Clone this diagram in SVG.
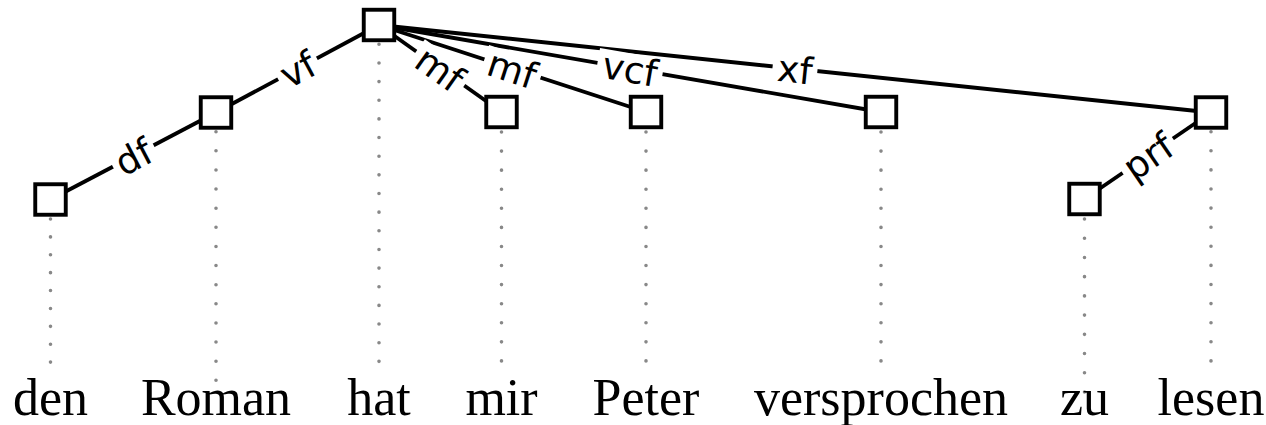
<svg xmlns="http://www.w3.org/2000/svg" width="1266" height="425" viewBox="0 0 1266 425">
<style>
.dot{stroke:#888;stroke-width:3.6;stroke-linecap:round;fill:none}
.edge{stroke:#000;stroke-width:3.9;fill:none}
.box{fill:#fff;stroke:#000;stroke-width:3.9}
.lbg{fill:#fff;stroke:none}
.lbl{font-family:"DejaVu Sans",sans-serif;font-size:37px;text-anchor:middle;fill:#000}
.word{font-family:"Liberation Serif","Times New Roman",serif;font-size:52px;text-anchor:middle;fill:#000}
</style>
<rect width="1266" height="425" fill="#fff"/>
<g id="projections">
<line class="dot" x1="50.5" y1="219" x2="50.5" y2="380" stroke-dasharray="0 17.889"/>
<line class="dot" x1="216" y1="131.7" x2="216" y2="380.3" stroke-dasharray="0 19.123"/>
<line class="dot" x1="379" y1="44.3" x2="379" y2="380" stroke-dasharray="0 18.65"/>
<line class="dot" x1="501.5" y1="132" x2="501.5" y2="380" stroke-dasharray="0 19.077"/>
<line class="dot" x1="646" y1="132" x2="646" y2="380" stroke-dasharray="0 19.077"/>
<line class="dot" x1="881" y1="132" x2="881" y2="380" stroke-dasharray="0 19.077"/>
<line class="dot" x1="1084.5" y1="219" x2="1084.5" y2="392" stroke-dasharray="0 19.222"/>
<line class="dot" x1="1211" y1="131.7" x2="1211" y2="380" stroke-dasharray="0 19.1"/>
</g>
<g id="connectors">
<line class="edge" x1="50.5" y1="199.5" x2="216" y2="112.5"/>
<line class="edge" x1="216" y1="112.5" x2="379" y2="25"/>
<line class="edge" x1="379" y1="25" x2="501.5" y2="112"/>
<line class="edge" x1="379" y1="25" x2="646" y2="112"/>
<line class="edge" x1="379" y1="25" x2="881" y2="112"/>
<line class="edge" x1="379" y1="25" x2="1211" y2="112.5"/>
<line class="edge" x1="1084.5" y1="199" x2="1211" y2="112.5"/>
<g transform="translate(133.25,156) rotate(-27.73)"><rect class="lbg" x="-23" y="-15" width="46" height="30"/><text class="lbl" y="14">df</text></g>
<g transform="translate(297.5,68.75) rotate(-28.23)"><rect class="lbg" x="-22" y="-15" width="44" height="30"/><text class="lbl" y="14">vf</text></g>
<g transform="translate(440.25,68.5) rotate(35.38)"><rect class="lbg" x="-29.5" y="-15" width="59" height="30"/><text class="lbl" y="14">mf</text></g>
<g transform="translate(512.5,68.5) rotate(18.05)"><rect class="lbg" x="-29.5" y="-15" width="59" height="30"/><text class="lbl" y="14">mf</text></g>
<g transform="translate(630,68.5) rotate(9.83)"><rect class="lbg" x="-33" y="-15" width="66" height="30"/><text class="lbl" y="14">vcf</text></g>
<g transform="translate(795,68.75) rotate(6)"><rect class="lbg" x="-22.5" y="-15" width="45" height="30"/><text class="lbl" y="14">xf</text></g>
<g transform="translate(1147.75,155.75) rotate(-34.36)"><rect class="lbg" x="-30.5" y="-15" width="61" height="30"/><text class="lbl" y="14">prf</text></g>
</g>
<g id="n-den"><rect class="box" x="35.25" y="184.25" width="30.5" height="30.5"/><text class="word" x="50.5" y="415">den</text></g>
<g id="n-roman"><rect class="box" x="200.75" y="97.25" width="30.5" height="30.5"/><text class="word" x="216" y="415">Roman</text></g>
<g id="n-hat"><rect class="box" x="363.75" y="9.75" width="30.5" height="30.5"/><text class="word" x="379" y="415">hat</text></g>
<g id="n-mir"><rect class="box" x="486.25" y="96.75" width="30.5" height="30.5"/><text class="word" x="501.5" y="415">mir</text></g>
<g id="n-peter"><rect class="box" x="630.75" y="96.75" width="30.5" height="30.5"/><text class="word" x="646" y="415">Peter</text></g>
<g id="n-versprochen"><rect class="box" x="865.75" y="96.75" width="30.5" height="30.5"/><text class="word" x="881" y="415">versprochen</text></g>
<g id="n-zu"><rect class="box" x="1069.25" y="183.75" width="30.5" height="30.5"/><text class="word" x="1084.5" y="415">zu</text></g>
<g id="n-lesen"><rect class="box" x="1195.75" y="97.25" width="30.5" height="30.5"/><text class="word" x="1211" y="415">lesen</text></g>
</svg>
